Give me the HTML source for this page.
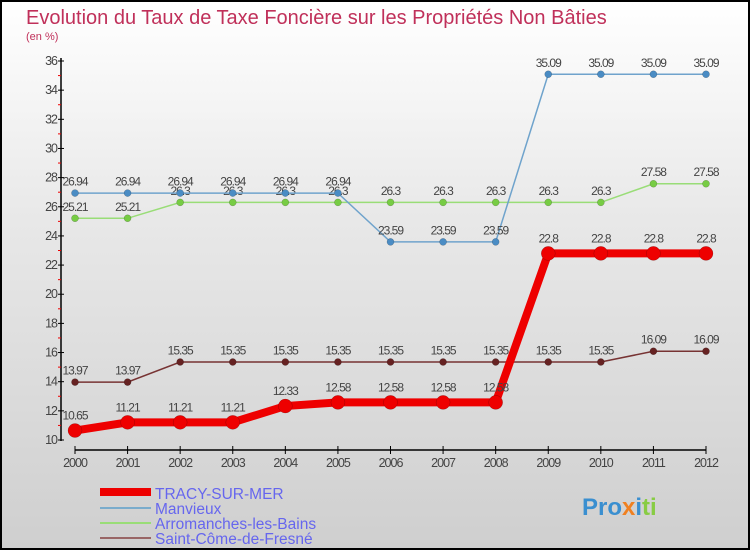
<!DOCTYPE html>
<html><head><meta charset="utf-8"><style>
body{margin:0}
#c{position:relative;width:750px;height:550px;box-sizing:border-box;border:2px solid #000;background:linear-gradient(#fff,#e8e8e8 40%,#cfcfcf);font-family:"Liberation Sans",sans-serif;overflow:hidden}
</style></head><body>
<div id="c">
<svg id="s" width="750" height="550" style="position:absolute;left:-2px;top:-2px">
<text x="26" y="24" font-size="20" font-weight="300" fill="#c0305a">Evolution du Taux de Taxe Foncière sur les Propriétés Non Bâties</text>
<text x="26" y="40" font-size="11" fill="#c0305a">(en %)</text>
<g id="ax"></g><g id="series"></g>
<g>
<line x1="100" y1="492" x2="151" y2="492" stroke="#e00" stroke-width="8"/>
<text x="155" y="499" font-size="15.5" fill="#6666ee">TRACY-SUR-MER</text>
<line x1="100" y1="508" x2="151" y2="508" stroke="#7aaccc" stroke-width="2"/>
<text x="155" y="514" font-size="15.5" fill="#6666ee">Manvieux</text>
<line x1="100" y1="523" x2="151" y2="523" stroke="#99dd77" stroke-width="2"/>
<text x="155" y="529" font-size="15.5" fill="#6666ee">Arromanches-les-Bains</text>
<line x1="100" y1="538" x2="151" y2="538" stroke="#996666" stroke-width="2"/>
<text x="155" y="544" font-size="15.5" fill="#6666ee">Saint-Côme-de-Fresné</text>
</g>
<text x="582" y="515" font-size="24" font-weight="bold" fill="#3a8fd0">Pro<tspan fill="#f08020">x</tspan>i<tspan fill="#8c4">ti</tspan></text>
</svg>
</div>
<script>
const years=[2000,2001,2002,2003,2004,2005,2006,2007,2008,2009,2010,2011,2012];
const yTicks=[10,12,14,16,18,20,22,24,26,28,30,32,34,36];
const tracy=[10.65,11.21,11.21,11.21,12.33,12.58,12.58,12.58,12.58,22.8,22.8,22.8,22.8];
const manvieux=[26.94,26.94,26.94,26.94,26.94,26.94,23.59,23.59,23.59,35.09,35.09,35.09,35.09];
const arromanches=[25.21,25.21,26.3,26.3,26.3,26.3,26.3,26.3,26.3,26.3,26.3,27.58,27.58];
const saintCome=[13.97,13.97,15.35,15.35,15.35,15.35,15.35,15.35,15.35,15.35,15.35,16.09,16.09];
const NS="http://www.w3.org/2000/svg";
const X=i=>75+i*(706-75)/(years.length-1);
const Y=v=>440-(v-10)*(440-61)/26;
function mk(p,t,a){const e=document.createElementNS(NS,t);for(const k in a)e.setAttribute(k,a[k]);p.appendChild(e);return e;}
const ax=document.getElementById('ax');
let l=mk(ax,'line',{x1:61,y1:58,x2:61,y2:441,stroke:'#000','stroke-width':1.5});

l=mk(ax,'line',{x1:75,y1:450,x2:706,y2:450,stroke:'#000','stroke-width':1.5});

yTicks.forEach(v=>{const y=Y(v);
 mk(ax,'line',{x1:58,x2:64,y1:y,y2:y,stroke:'#000'});
 mk(ax,'line',{x1:58,x2:61,y1:Y(v+1),y2:Y(v+1),stroke:v<36?'#e00':'none'});
 const t=mk(ax,'text',{x:57,y:y+4,'font-size':12.5,fill:'#444','text-anchor':'end','letter-spacing':'-1'});t.textContent=v;
 });
years.forEach((yr,i)=>{const x=X(i);
 mk(ax,'line',{x1:x,x2:x,y1:446,y2:454,stroke:'#000'});
 const t=mk(ax,'text',{x:x,y:467,'font-size':12.5,fill:'#444','text-anchor':'middle','letter-spacing':'-1'});t.textContent=yr;
 });
const sg=document.getElementById('series');
function series(name,d,color,w,r,fill){
 const g=mk(sg,'g',{});
 const pl=mk(g,'polyline',{points:d.map((v,i)=>X(i)+','+Y(v)).join(' '),fill:'none',stroke:color,'stroke-width':w});
 
 d.forEach((v,i)=>{const c=mk(g,'circle',{cx:X(i),cy:Y(v),r:r,fill:fill,stroke:'rgba(0,0,0,0.3)','stroke-width':0.5});
  
  const t=mk(g,'text',{x:X(i),y:Y(v)-r-4,'font-size':12,fill:'#444','text-anchor':'middle','letter-spacing':'-1'});t.textContent=v;
  });
}
series('saint-come',saintCome,'#773333',1.5,3.5,'#662222');
series('arromanches',arromanches,'#99dd77',1.5,3.5,'#77cc44');
series('manvieux',manvieux,'#6fa3cc',1.5,3.5,'#4a8cc4');
series('tracy',tracy,'#ee0000',8,7,'#ee0000');
</script>
</body></html>
